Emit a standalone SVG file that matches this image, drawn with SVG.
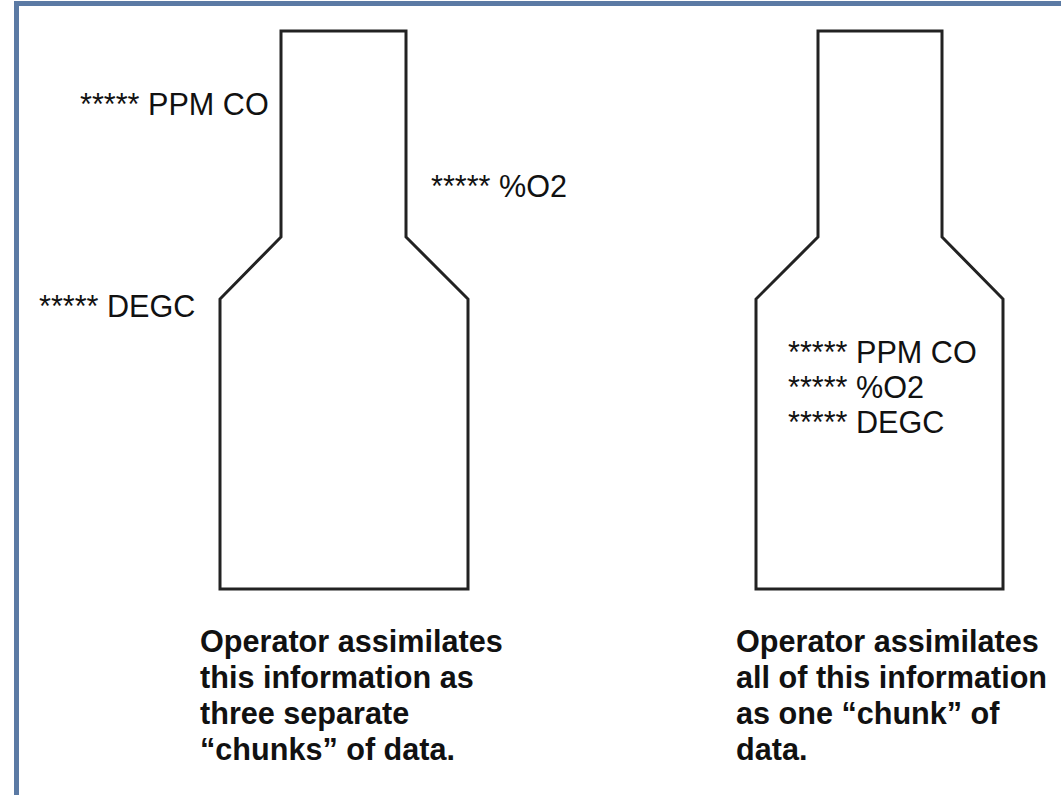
<svg xmlns="http://www.w3.org/2000/svg" width="1061" height="795" viewBox="0 0 1061 795">
<style>
.frame{fill:none;stroke:#5b7aa4;stroke-width:5}
.bottle{fill:none;stroke:#222;stroke-width:3;stroke-linejoin:miter}
.lbl{font-family:"Liberation Sans",Arial,sans-serif;font-size:30.6px;fill:#111}
.cap{font-family:"Liberation Sans",Arial,sans-serif;font-size:30.6px;font-weight:bold;fill:#111}
</style>
<rect width="1061" height="795" fill="#fff"/>
<rect class="frame" x="16.5" y="3.5" width="1100" height="850"/>
<g id="bottle-left">
<path class="bottle" d="M281,31 H406 V237 L468,299 V589 H220 V299 L281,237 Z"/>
</g>
<g id="bottle-right">
<path class="bottle" d="M818,31 H942 V237 L1003,299 V589 H756 V299 L818,237 Z"/>
</g>
<g id="labels-left">
<text class="lbl" x="80" y="115">***** PPM CO</text>
<text class="lbl" x="431" y="197">***** %O2</text>
<text class="lbl" x="39" y="317">***** DEGC</text>
</g>
<g id="labels-right">
<text class="lbl" x="788" y="363">***** PPM CO</text>
<text class="lbl" x="788" y="398">***** %O2</text>
<text class="lbl" x="788" y="433">***** DEGC</text>
</g>
<g id="caption-left">
<text class="cap" x="200" y="652">Operator assimilates</text>
<text class="cap" x="200" y="688">this information as</text>
<text class="cap" x="200" y="724">three separate</text>
<text class="cap" x="200" y="760">“chunks” of data.</text>
</g>
<g id="caption-right">
<text class="cap" x="736" y="652">Operator assimilates</text>
<text class="cap" x="736" y="688">all of this information</text>
<text class="cap" x="736" y="724">as one “chunk” of</text>
<text class="cap" x="736" y="760">data.</text>
</g>
</svg>
